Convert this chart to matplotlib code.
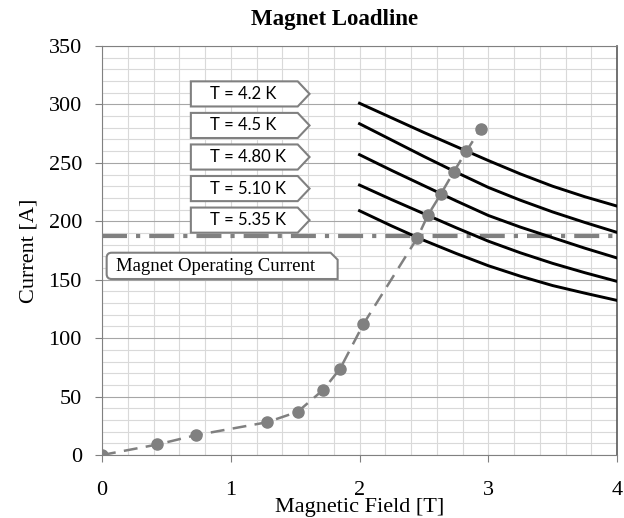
import matplotlib
matplotlib.use('Agg')
import matplotlib.pyplot as plt
from matplotlib.patches import Polygon, PathPatch
from matplotlib.path import Path
from matplotlib.ticker import MultipleLocator
from matplotlib.transforms import IdentityTransform

# measured loadline of the magnet
field = [0.0, 0.43, 0.73, 1.28, 1.52, 1.72, 1.85, 2.03, 2.45, 2.53, 2.63, 2.73, 2.83, 2.94]
current = [0, 9, 17, 28, 37, 56, 74, 112, 186, 205, 223, 242, 260, 279]

# critical current curves of the conductor
crit_field = [2.0, 2.25, 2.5, 2.75, 3.0, 3.25, 3.5, 3.75, 4.0]
crit_labels = ['T = 4.2 K', 'T = 4.5 K', 'T = 4.80 K', 'T = 5.10 K', 'T = 5.35 K']
crit_current = [
    [301, 288.5, 276, 264, 252, 240.5, 230, 221, 213],
    [283.5, 269.5, 255.5, 242, 229, 218, 208, 199, 190.5],
    [257, 243.5, 230.5, 217.5, 205, 195, 186, 177, 168.6],
    [231, 218.5, 206.5, 194.5, 183, 173, 164, 156, 148.6],
    [209, 196, 183.7, 172.5, 162, 153, 145, 138.5, 132.3],
]
operating_current = 187

plt.rcParams['font.family'] = 'Liberation Serif'
plt.rcParams['lines.scale_dashes'] = False

fig = plt.figure(figsize=(6.24, 5.18), dpi=100)
ax = fig.add_axes([0.1635, 0.1216, 0.8253, 0.7896])
ax.set_xlim(0, 4)
ax.set_ylim(0, 350)

ax.xaxis.set_major_locator(MultipleLocator(1))
ax.xaxis.set_minor_locator(MultipleLocator(0.2))
ax.yaxis.set_major_locator(MultipleLocator(50))
ax.yaxis.set_minor_locator(MultipleLocator(10))
ax.set_axisbelow(True)
ax.grid(which='minor', color='#d9d9d9', lw=0.8)
ax.grid(which='major', axis='x', color='#d9d9d9', lw=0.8)
ax.grid(which='major', axis='y', color='#a6a6a6', lw=0.8)
ax.tick_params(which='minor', length=0)
ax.tick_params(which='major', direction='out', length=5, width=0.8,
               color='#808080', labelsize=16)
ax.tick_params(axis='y', pad=9.5)
ax.tick_params(axis='x', pad=14)

for side in ['left', 'bottom', 'top']:
    ax.spines[side].set_color('#808080')
ax.spines['right'].set_color('#595959')
ax.spines['right'].set_linewidth(1.2)

# operating current
ax.axhline(operating_current, color='#808080', lw=3,
           dashes=(18, 6.5, 3, 6.5), zorder=2)

# critical current lines
for vals in crit_current:
    ax.plot(crit_field, vals, color='black', lw=2.1, zorder=3,
            solid_joinstyle='round')

# loadline
ax.plot(field, current, color='#808080', lw=1.8, dashes=(10, 6),
        marker='o', ms=8, mfc='#808080', mec='#808080', zorder=4)

# arrow shaped labels
box_x0, box_x1, box_tip, box_h = 0.69, 1.52, 1.612, 21.5
box_y = [309, 282, 255, 228, 201]
for lab, yc in zip(crit_labels, box_y):
    poly = Polygon([(box_x0, yc - box_h / 2), (box_x1, yc - box_h / 2),
                    (box_tip, yc), (box_x1, yc + box_h / 2),
                    (box_x0, yc + box_h / 2)], closed=True,
                   facecolor='white', edgecolor='#808080', lw=1.5, zorder=5)
    ax.add_patch(poly)
    ax.text(0.837, yc, lab, fontsize=12, family='Lato', va='center',
            ha='left', zorder=6)

# operating current label box
(L, B), (R, T) = ax.transData.transform([(0.036, 150.6), (1.83, 173.1)])
r, c = 5, 7
verts = [(L + r, B), (R, B), (R, T - c), (R - c, T), (L + r, T),
         (L, T), (L, T - r), (L, B + r), (L, B), (L + r, B), (L + r, B)]
codes = [Path.MOVETO, Path.LINETO, Path.LINETO, Path.LINETO, Path.LINETO,
         Path.CURVE3, Path.CURVE3, Path.LINETO, Path.CURVE3, Path.CURVE3,
         Path.CLOSEPOLY]
ax.add_patch(PathPatch(Path(verts, codes), facecolor='white',
                       edgecolor='#808080', lw=1.5, zorder=5,
                       transform=IdentityTransform()))
ax.text(0.109, 161.7, 'Magnet Operating Current', fontsize=13.5,
        va='center', ha='left', zorder=6)

ax.set_xlabel('Magnetic Field [T]', fontsize=16)
ax.xaxis.set_label_coords(0.5, -0.104)
ax.set_ylabel('Current [A]', fontsize=16)
ax.yaxis.set_label_coords(-0.123, 0.5)

fig.text(335 / 624, 1 - 25 / 518, 'Magnet Loadline', ha='center',
         va='baseline', fontsize=16.5, fontweight='bold')

fig.savefig('out.png', dpi=100)
